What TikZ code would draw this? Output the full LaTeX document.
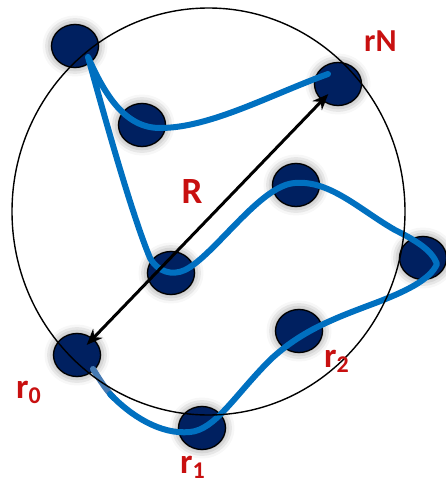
\documentclass[tikz,border=0pt]{standalone}
\usepackage{fontspec}
\usepackage{tikz}
\usetikzlibrary{arrows.meta, shapes.geometric, shadows.blur}
\newfontfamily\lblfont{Carlito}
\definecolor{beadnavy}{RGB}{0,32,96}
\definecolor{chainblue}{RGB}{0,112,192}
\definecolor{chainsteel}{RGB}{70,122,178}
\definecolor{lblred}{RGB}{200,16,16}
\newcommand{\rsub}[1]{r\raisebox{-5pt}{\fontsize{24}{24}\selectfont #1}}

\begin{document}
\begin{tikzpicture}[x=1pt, y=-1pt,
    bead/.style={ellipse, draw=black, line width=1.3pt, fill=beadnavy,
                 minimum width=47pt, minimum height=43pt, inner sep=0pt,
                 blur shadow={shadow xshift=0pt, shadow yshift=0pt,
                              shadow blur radius=9pt, shadow opacity=50}},
    chain/.style={draw=chainblue, line width=6pt, line cap=round, line join=round},
    arrow/.style={{Stealth[length=16pt, width=13pt]}-{Stealth[length=16pt, width=13pt]},
                  line width=3pt, shorten <=14pt, shorten >=14pt},
    lbl/.style={font=\lblfont\bfseries\fontsize{35}{35}\selectfont, text=lblred,
                inner sep=0pt, anchor=base west}
]
\useasboundingbox (0,0) rectangle (446,487);

% Beads
\node[bead] (tl) at (75,46) {};
\node[bead] (b2) at (142,125) {};
\node[bead] (rN) at (338,84) {};
\node[bead] (hump) at (296,185) {};
\node[bead] (mid) at (171,273) {};
\node[bead] (rt) at (423,258) {};
\node[bead] (r2) at (299,331) {};
\node[bead] (r0) at (77,355) {};
\node[bead] (r1) at (202,428) {};

% Chain
\draw[chain, draw=chainsteel] (93,369) .. controls (100,380) and (106,390) .. (114,398);
\draw[chain] (110,394) .. controls (130,415) and (160,435) .. (190,432)
    .. controls (215,430) and (235,395) .. (270,360)
    .. controls (300,332) and (330,320) .. (370,305)
    .. controls (405,292) and (430,280) .. (437,264)
    .. controls (432,250) and (415,240) .. (395,230)
    .. controls (360,210) and (330,180) .. (295,183)
    .. controls (260,185) and (215,255) .. (185,270)
    .. controls (172,276) and (158,272) .. (150,258)
    .. controls (130,210) and (100,100) .. (88,57)
    .. controls (105,95) and (125,128) .. (160,128)
    .. controls (210,128) and (270,95) .. (328,74);

% Boundary sphere
\draw[line width=1.4pt] (208.5,211.5) ellipse [x radius=196.5, y radius=203.5];

% Radius
\draw[arrow] (r0.center) -- (rN.center);

% Labels
\node[font=\lblfont\bfseries\fontsize{37}{37}\selectfont, text=lblred,
      inner sep=0pt, anchor=base] (Rlbl) at (192,203) {R};
\node[lbl, font=\lblfont\bfseries\fontsize{32}{32}\selectfont] (rNlbl) at (364,52) {rN};
\node[lbl] (r0lbl) at (16,398) {\rsub{0}};
\node[lbl] (r1lbl) at (180,473) {\rsub{1}};
\node[lbl] (r2lbl) at (324,367) {\rsub{2}};

\end{tikzpicture}
\end{document}
